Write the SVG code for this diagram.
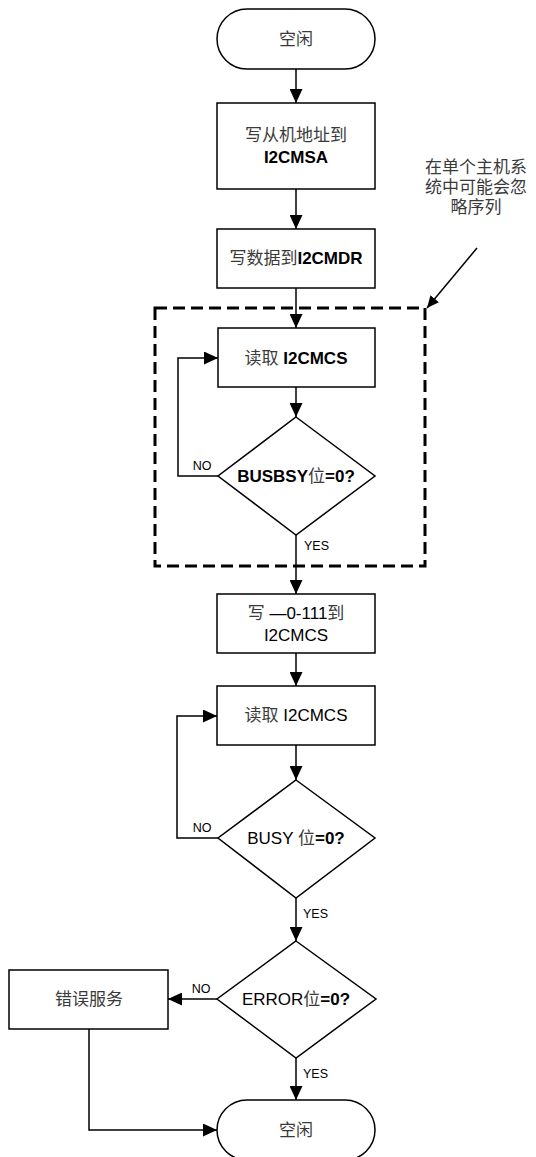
<svg xmlns="http://www.w3.org/2000/svg" width="536" height="1157" viewBox="0 0 536 1157">
<style>
.shape{fill:#fff;stroke:#000;stroke-width:1.5}
.conn{fill:none;stroke:#000;stroke-width:1.5}
.t{font-family:"Liberation Sans","Noto Sans CJK SC",sans-serif;font-size:17px;fill:#000;text-anchor:middle}
.cj{fill:#3a3a3a}
.b{font-weight:bold}
.lbl{font-family:"Liberation Sans",sans-serif;font-size:12.5px;fill:#000}
</style>
<defs>
<marker id="ah" markerUnits="userSpaceOnUse" markerWidth="14" markerHeight="13" refX="14" refY="6.5" orient="auto">
<path d="M0,0 L14,6.5 L0,13 z" fill="#000"/>
</marker>
<marker id="ah2" markerUnits="userSpaceOnUse" markerWidth="12" markerHeight="11" refX="12" refY="5.5" orient="auto">
<path d="M0,0 L12,5.5 L0,11 z" fill="#000"/>
</marker>
</defs>
<rect x="155" y="308" width="270" height="258" fill="none" stroke="#000" stroke-width="3" stroke-dasharray="12 6"/>
<g id="connectors">
<path class="conn" d="M296,69 V103" marker-end="url(#ah)"/>
<path class="conn" d="M296,189 V229" marker-end="url(#ah)"/>
<path class="conn" d="M296,288 V328" marker-end="url(#ah)"/>
<path class="conn" d="M296,387 V417" marker-end="url(#ah)"/>
<path class="conn" d="M218,476 H178 V358 H218" marker-end="url(#ah)"/>
<path class="conn" d="M296,535 V594" marker-end="url(#ah)"/>
<path class="conn" d="M296,653 V686" marker-end="url(#ah)"/>
<path class="conn" d="M296,745 V780" marker-end="url(#ah)"/>
<path class="conn" d="M218,838 H177 V716 H217" marker-end="url(#ah)"/>
<path class="conn" d="M296,898 V941" marker-end="url(#ah)"/>
<path class="conn" d="M217,999 H168" marker-end="url(#ah)"/>
<path class="conn" d="M296,1058 V1100" marker-end="url(#ah)"/>
<path class="conn" d="M89,1029 V1130 H217" marker-end="url(#ah)"/>
<path class="conn" d="M477,248 L427,308" stroke-width="1.2" marker-end="url(#ah2)"/>
<text class="lbl" x="202" y="470" text-anchor="middle">NO</text>
<text class="lbl" x="304" y="550">YES</text>
<text class="lbl" x="202" y="832" text-anchor="middle">NO</text>
<text class="lbl" x="303" y="918">YES</text>
<text class="lbl" x="201" y="993" text-anchor="middle">NO</text>
<text class="lbl" x="303" y="1078">YES</text>
</g>
<g id="start">
<rect class="shape" x="217" y="9" width="158" height="60" rx="30"/>
<text class="t cj" x="296" y="45">空闲</text>
</g>
<g id="write-addr">
<rect class="shape" x="217" y="103" width="158" height="86"/>
<text class="t cj" x="296" y="141">写从机地址到</text>
<text class="t b" x="296" y="163">I2CMSA</text>
</g>
<g id="write-data">
<rect class="shape" x="217" y="229" width="158" height="59"/>
<text class="t" x="296" y="264"><tspan class="cj">写数据到</tspan><tspan class="b">I2CMDR</tspan></text>
</g>
<g id="read1">
<rect class="shape" x="218" y="328" width="157" height="59"/>
<text class="t" x="296" y="364"><tspan class="cj">读取 </tspan><tspan class="b">I2CMCS</tspan></text>
</g>
<g id="busbsy">
<polygon class="shape" points="296,417 375,476 296,535 218,476"/>
<text class="t b" x="296" y="482">BUSBSY<tspan class="cj" font-weight="normal">位</tspan>=0?</text>
</g>
<g id="write-cs">
<rect class="shape" x="217" y="594" width="158" height="59"/>
<text class="t" x="296" y="619"><tspan class="cj">写 </tspan>—0-111<tspan class="cj">到</tspan></text>
<text class="t" x="296" y="641">I2CMCS</text>
</g>
<g id="read2">
<rect class="shape" x="217" y="686" width="158" height="59"/>
<text class="t" x="296" y="721"><tspan class="cj">读取 </tspan>I2CMCS</text>
</g>
<g id="busy">
<polygon class="shape" points="296,780 375,838 296,898 218,838"/>
<text class="t" x="296" y="844">BUSY <tspan class="cj">位</tspan><tspan class="b">=0?</tspan></text>
</g>
<g id="error">
<polygon class="shape" points="296,941 376,999 296,1058 217,999"/>
<text class="t" x="296" y="1005">ERROR<tspan class="cj">位</tspan><tspan class="b">=0?</tspan></text>
</g>
<g id="error-service">
<rect class="shape" x="9" y="970" width="159" height="59"/>
<text class="t cj" x="89" y="1005">错误服务</text>
</g>
<g id="end">
<rect class="shape" x="217" y="1100" width="158" height="60" rx="30"/>
<text class="t cj" x="296" y="1136">空闲</text>
</g>
<g id="note">
<text class="t cj" x="476" y="173">在单个主机系</text>
<text class="t cj" x="476" y="193">统中可能会忽</text>
<text class="t cj" x="476" y="213">略序列</text>
</g>
</svg>
